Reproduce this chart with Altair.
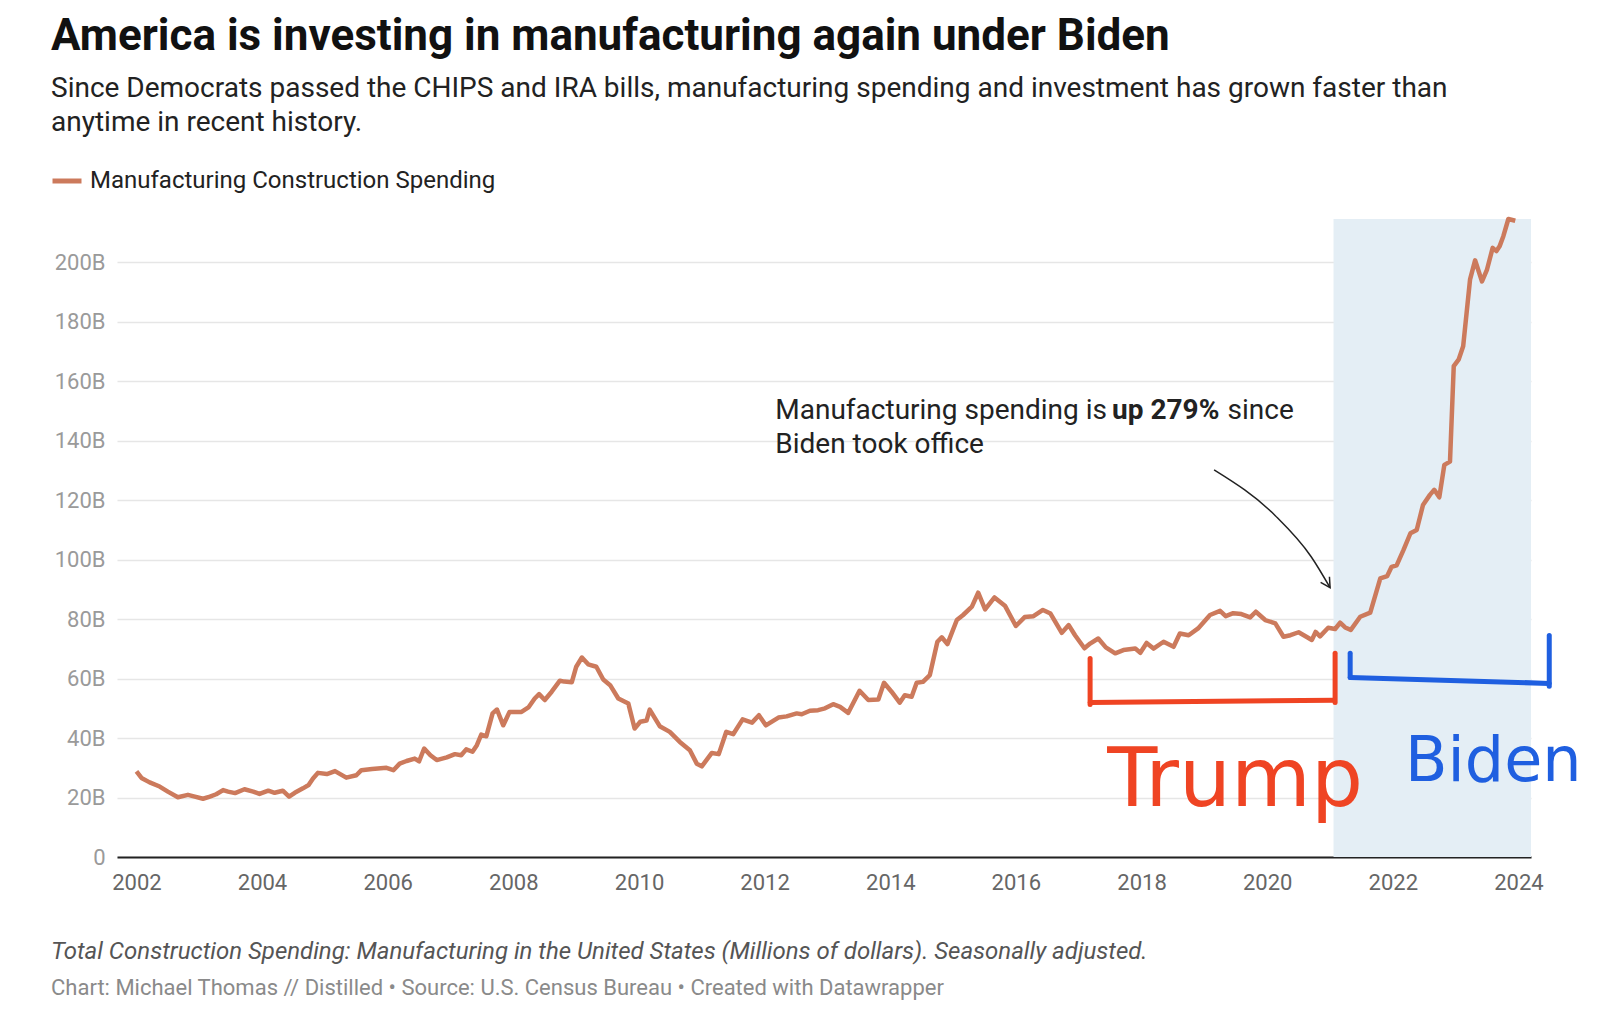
import altair as alt
import pandas as pd
import numpy as np

# ---------------- data ----------------
years = [
    2002.00, 2002.08, 2002.21, 2002.37, 2002.50, 2002.66, 2002.82, 2002.93,
    2003.06, 2003.17, 2003.27, 2003.38, 2003.46, 2003.57, 2003.72, 2003.86, 2003.96,
    2004.10, 2004.20, 2004.33, 2004.43, 2004.52, 2004.65, 2004.74, 2004.81, 2004.89,
    2005.03, 2005.16, 2005.34, 2005.50, 2005.58, 2005.75, 2005.98,
    2006.09, 2006.19, 2006.30, 2006.43, 2006.50, 2006.58, 2006.68, 2006.78, 2006.94,
    2007.07, 2007.17, 2007.25, 2007.35, 2007.42, 2007.49, 2007.57, 2007.67, 2007.74, 2007.84, 2007.94,
    2008.13, 2008.24, 2008.34, 2008.41, 2008.50, 2008.61, 2008.74, 2008.81, 2008.93,
    2009.00, 2009.09, 2009.19, 2009.32, 2009.43, 2009.54, 2009.67, 2009.83, 2009.93,
    2010.02, 2010.12, 2010.17, 2010.33, 2010.49, 2010.65, 2010.81, 2010.92,
    2011.00, 2011.16, 2011.27, 2011.39, 2011.50, 2011.65, 2011.80, 2011.91,
    2012.02, 2012.22, 2012.35, 2012.51, 2012.59, 2012.72, 2012.85, 2012.96,
    2013.09, 2013.20, 2013.33, 2013.51, 2013.65, 2013.81, 2013.90,
    2014.02, 2014.15, 2014.23, 2014.34, 2014.42, 2014.52, 2014.63, 2014.75, 2014.82, 2014.91,
    2015.06, 2015.16, 2015.30, 2015.40, 2015.51, 2015.66, 2015.83,
    2016.00, 2016.14, 2016.28, 2016.43, 2016.55, 2016.73, 2016.84, 2016.94,
    2017.09, 2017.18, 2017.31, 2017.43, 2017.58, 2017.71, 2017.90, 2017.98,
    2018.08, 2018.19, 2018.35, 2018.51, 2018.61, 2018.75, 2018.90,
    2019.09, 2019.25, 2019.34, 2019.46, 2019.59, 2019.73, 2019.82, 2019.97,
    2020.13, 2020.26, 2020.37, 2020.50, 2020.63, 2020.71, 2020.77, 2020.84, 2020.97,
    2021.08, 2021.16, 2021.24, 2021.33, 2021.48, 2021.64, 2021.80, 2021.91, 2021.98,
    2022.06, 2022.17, 2022.28, 2022.38, 2022.48, 2022.59, 2022.66, 2022.74, 2022.82, 2022.91, 2022.97,
    2023.05, 2023.12, 2023.23, 2023.31, 2023.42, 2023.50, 2023.59, 2023.65, 2023.70, 2023.76, 2023.84, 2023.95,
]
values_b = [
    28.8, 26.6, 25.1, 23.7, 22.0, 20.1, 20.9, 20.3,
    19.6, 20.3, 21.1, 22.5, 22.0, 21.5, 22.8, 22.0, 21.2,
    22.3, 21.6, 22.3, 20.3, 21.6, 23.1, 24.2, 26.4, 28.3,
    27.9, 28.9, 26.7, 27.5, 29.2, 29.6, 30.0,
    29.2, 31.4, 32.3, 33.1, 32.2, 36.5, 34.2, 32.6, 33.5,
    34.6, 34.2, 36.2, 35.4, 37.6, 41.2, 40.6, 48.3, 49.6, 44.3, 48.8,
    48.8, 50.3, 53.3, 54.8, 52.8, 55.6, 59.3, 59.0, 58.8,
    64.0, 67.1, 64.8, 64.0, 59.7, 57.8, 53.3, 51.6, 43.2,
    45.5, 45.9, 49.6, 44.0, 42.1, 38.7, 35.9, 31.4,
    30.5, 35.0, 34.6, 42.1, 41.3, 46.3, 45.2, 47.7,
    44.3, 46.9, 47.3, 48.3, 48.0, 49.2, 49.4, 50.0,
    51.4, 50.5, 48.5, 55.9, 52.8, 53.0, 58.6,
    55.6, 51.9, 54.4, 53.9, 58.6, 58.9, 61.2, 72.4, 73.9, 71.6,
    79.7, 81.4, 84.2, 88.9, 83.3, 87.3, 84.4,
    77.7, 80.7, 81.0, 83.1, 81.9, 75.4, 78.0, 74.6,
    70.2, 71.8, 73.5, 70.5, 68.5, 69.6, 70.1, 68.7,
    72.0, 70.1, 72.4, 70.7, 75.2, 74.6, 76.9,
    81.4, 82.8, 81.0, 82.0, 81.7, 80.6, 82.5, 79.7,
    78.6, 74.1, 74.6, 75.6, 74.0, 73.0, 75.7, 74.2, 77.1,
    76.7, 78.8, 77.2, 76.4, 80.8, 82.2, 93.7, 94.5, 97.6,
    98.1, 103.3, 108.9, 110.0, 118.4, 121.8, 123.5, 121.0, 131.9, 133.0, 165.1,
    167.4, 171.8, 194.3, 200.7, 193.6, 197.6, 204.9, 203.8, 205.4, 208.8, 214.6, 214.0,
]
series_name = "Manufacturing Construction Spending"

y_ticks = [0, 20, 40, 60, 80, 100, 120, 140, 160, 180, 200]
x_tick_years = [2002, 2004, 2006, 2008, 2010, 2012, 2014, 2016, 2018, 2020, 2022, 2024]

x_domain_years = [2001.69, 2024.20]
y_domain = [0, 214.6]

# Biden term highlight
shade_years = [2021.055, 2024.20]

# annotation (data units: decimal year, billions)
note_year = 2012.17
note_line1_value = 150.0
note_line2_value = 138.6
note_bold_year = 2017.53
note_since_year = 2019.37
arrow_years = [2019.155, 2020.13, 2020.70, 2021.0]
arrow_values = [130.2, 114.8, 101.0, 90.6]

# hand-drawn brackets: (year1, value1, year2, value2, who)
bracket_year1 = [2017.18, 2017.18, 2021.08, 2021.32, 2021.32, 2024.49]
bracket_val1 = [66.8, 52.0, 68.5, 68.5, 60.4, 74.5]
bracket_year2 = [2017.18, 2021.07, 2021.08, 2021.32, 2024.49, 2024.49]
bracket_val2 = [51.3, 52.7, 52.0, 60.4, 58.4, 57.4]
bracket_who = ["Trump", "Trump", "Trump", "Biden", "Biden", "Biden"]

hand_labels = ["Trump", "Biden"]
hand_years = [2019.49, 2023.60]
hand_values = [17.1, 25.5]

title = "America is investing in manufacturing again under Biden"
subtitle = [
    "Since Democrats passed the CHIPS and IRA bills, manufacturing spending and investment has grown faster than",
    "anytime in recent history.",
]
footer1 = "Total Construction Spending: Manufacturing in the United States (Millions of dollars). Seasonally adjusted."
footer2 = "Chart: Michael Thomas // Distilled \u2022 Source: U.S. Census Bureau \u2022 Created with Datawrapper"


def to_date(y):
    yr = int(np.floor(y))
    frac = y - yr
    start = pd.Timestamp(year=yr, month=1, day=1)
    end = pd.Timestamp(year=yr + 1, month=1, day=1)
    return (start + (end - start) * frac).floor("s")


def iso(y):
    return to_date(y).strftime("%Y-%m-%dT%H:%M:%S")


FONT = "Roboto"
LINE_COLOR = "#cc7a5c"
RED = "#ef4423"
BLUE = "#1f5fe0"

df = pd.DataFrame({"date": [iso(y) for y in years], "value": values_b, "series": series_name})

x_scale = alt.Scale(domain=[iso(x_domain_years[0]), iso(x_domain_years[1])], nice=False)
y_scale = alt.Scale(domain=y_domain, nice=False, zero=True)

x_axis = alt.Axis(
    values=[iso(y) for y in x_tick_years], format="%Y", title=None, grid=False,
    ticks=False, domain=True, domainColor="#222", domainWidth=2,
    labelFont=FONT, labelFontSize=22, labelColor="#666", labelPadding=15,
)
y_axis = alt.Axis(
    values=y_ticks, title=None, grid=True, gridColor="#e6e6e6", gridWidth=1.5,
    ticks=False, domain=False, labelFont=FONT, labelFontSize=22, labelColor="#9a9a9a",
    labelPadding=12, labelExpr="datum.value == 0 ? '0' : datum.value + 'B'",
)

# shaded region
shade_df = pd.DataFrame({"x": [iso(shade_years[0])], "x2": [iso(shade_years[1])],
                         "y": [y_domain[0]], "y2": [y_domain[1]]})
shade = alt.Chart(shade_df).mark_rect(color="#e4eef5").encode(
    x=alt.X("x:T", scale=x_scale, axis=x_axis),
    x2="x2:T",
    y=alt.Y("y:Q", scale=y_scale, axis=y_axis),
    y2="y2:Q",
)

line = alt.Chart(df).mark_line(strokeWidth=4.5, strokeJoin="round").encode(
    x=alt.X("date:T", scale=x_scale, axis=x_axis),
    y=alt.Y("value:Q", scale=y_scale, axis=y_axis),
    color=alt.Color(
        "series:N",
        scale=alt.Scale(domain=[series_name], range=[LINE_COLOR]),
        legend=alt.Legend(
            orient="none", legendX=-67, legendY=-55, title=None, symbolType="stroke",
            symbolStrokeWidth=5, symbolSize=841, labelFont=FONT, labelFontSize=24,
            labelColor="#222", labelOffset=6, labelLimit=1000, padding=0,
        ),
    ),
)

# annotation text
note_df = pd.DataFrame({
    "x": [iso(note_year), iso(note_bold_year), iso(note_since_year), iso(note_year)],
    "y": [note_line1_value, note_line1_value, note_line1_value, note_line2_value],
    "t": ["Manufacturing spending is", "up 279%", "since", "Biden took office"],
    "w": ["normal", "bold", "normal", "normal"],
})
note_normal = alt.Chart(note_df[note_df.w == "normal"]).mark_text(
    align="left", baseline="middle", font=FONT, fontSize=28, color="#222"
).encode(x=alt.X("x:T", scale=x_scale), y=alt.Y("y:Q", scale=y_scale), text="t:N")
note_bold = alt.Chart(note_df[note_df.w == "bold"]).mark_text(
    align="left", baseline="middle", font=FONT, fontSize=28, fontWeight="bold", color="#222"
).encode(x=alt.X("x:T", scale=x_scale), y=alt.Y("y:Q", scale=y_scale), text="t:N")

arrow_df = pd.DataFrame({"x": [iso(y) for y in arrow_years], "y": arrow_values, "o": list(range(len(arrow_years)))})
arrow = alt.Chart(arrow_df).mark_line(color="#222", strokeWidth=1.5, interpolate="monotone").encode(
    x=alt.X("x:T", scale=x_scale), y=alt.Y("y:Q", scale=y_scale), order="o:Q"
)
arrow_head = alt.Chart(arrow_df.tail(1)).mark_point(
    shape="M-0.6,-1.1L0,0L0.6,-1.1", filled=False, stroke="#222", strokeWidth=1.5,
    size=300, angle=328, opacity=1,
).encode(x=alt.X("x:T", scale=x_scale), y=alt.Y("y:Q", scale=y_scale))

# hand-drawn brackets
br_df = pd.DataFrame({
    "x": [iso(v) for v in bracket_year1], "y": bracket_val1,
    "x2": [iso(v) for v in bracket_year2], "y2": bracket_val2, "who": bracket_who,
})
who_scale = alt.Scale(domain=hand_labels, range=[RED, BLUE])
brackets = alt.Chart(br_df).mark_rule(strokeWidth=5, strokeCap="round").encode(
    x=alt.X("x:T", scale=x_scale), x2="x2:T",
    y=alt.Y("y:Q", scale=y_scale), y2="y2:Q",
    color=alt.Color("who:N", scale=who_scale, legend=None),
)

hand_df = pd.DataFrame({"x": [iso(v) for v in hand_years], "y": hand_values, "t": hand_labels})
hand_trump = alt.Chart(hand_df[hand_df.t == "Trump"]).mark_text(
    align="center", baseline="alphabetic", font="DejaVu Sans", fontSize=82, color=RED
).encode(x=alt.X("x:T", scale=x_scale), y=alt.Y("y:Q", scale=y_scale), text="t:N")
hand_biden = alt.Chart(hand_df[hand_df.t == "Biden"]).mark_text(
    align="center", baseline="alphabetic", font="DejaVu Sans", fontSize=62, color=BLUE
).encode(x=alt.X("x:T", scale=x_scale), y=alt.Y("y:Q", scale=y_scale), text="t:N")

# footer notes
foot_df = pd.DataFrame({"t": [footer1, footer2]})
foot1 = alt.Chart(foot_df.head(1)).mark_text(
    align="left", baseline="middle", font=FONT, fontSize=24, fontStyle="italic", color="#555"
).encode(x=alt.value(-66), y=alt.value(733), text="t:N")
foot2 = alt.Chart(foot_df.tail(1)).mark_text(
    align="left", baseline="middle", font=FONT, fontSize=22, color="#8a8a8a"
).encode(x=alt.value(-66), y=alt.value(769), text="t:N")

chart = alt.layer(
    shade, line, arrow, arrow_head, note_normal, note_bold, brackets, hand_trump, hand_biden, foot1, foot2
).resolve_scale(color="independent").properties(
    width=1414, height=638,
    background="white",
    autosize=alt.AutoSizeParams(type="none"),
    padding={"left": 109, "top": 211, "right": 61, "bottom": 150},
    title=alt.TitleParams(
        text=title, subtitle=subtitle, anchor="start", frame="group", dx=-66, offset=27,
        font=FONT, fontSize=44, fontWeight="bold", color="#111",
        subtitleFont=FONT, subtitleFontSize=28, subtitleColor="#222",
        subtitlePadding=16, subtitleLineHeight=34,
    ),
).configure_view(strokeWidth=0, stroke="transparent")

chart.save("out.html", embed_options={"renderer": "svg", "actions": False})
